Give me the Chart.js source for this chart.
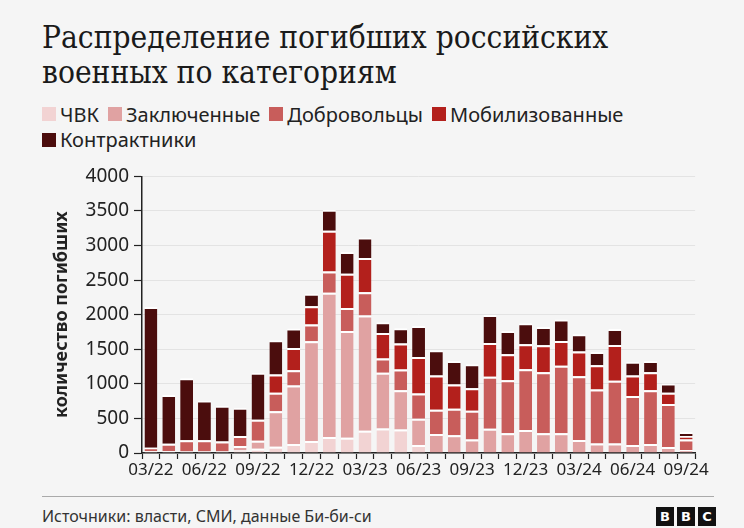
<!DOCTYPE html>
<html><head><meta charset="utf-8">
<script src="https://cdn.jsdelivr.net/npm/chart.js@4/dist/chart.umd.min.js"></script>
<style>
html,body{margin:0;padding:0;background:#f5f5f5;}
body{width:744px;height:528px;position:relative;overflow:hidden;font-family:"Noto Sans",sans-serif;color:#222;}
#title{position:absolute;left:42px;top:20px;font-family:"DejaVu Serif",serif;font-stretch:condensed;font-size:31.4px;line-height:35px;color:#1a1a1a;white-space:nowrap;}
#legend{position:absolute;left:42px;top:101px;width:660px;font-size:20px;line-height:25px;color:#222}
.item{display:inline-flex;align-items:center;margin-right:9px;white-space:nowrap}
.sw{width:14px;height:14px;margin-right:4px;display:inline-block}
#chartbox{position:absolute;left:40px;top:160px;width:670px;height:320px}
#rule{position:absolute;left:42px;top:496px;width:672px;height:1px;background:#aaa}
#source{position:absolute;left:42px;top:505px;font-size:16px;color:#333;white-space:nowrap}
#bbc{position:absolute;left:656px;top:507px;display:flex;gap:3px}
#bbc span{width:18px;height:19px;background:#111;color:#fff;font-weight:bold;font-size:13px;display:flex;align-items:center;justify-content:center;font-family:"DejaVu Sans",sans-serif}
</style>
</head><body>
<div id="title">Распределение погибших российских<br>военных по категориям</div>
<div id="legend"></div>
<div id="chartbox"><canvas id="c" width="670" height="320"></canvas></div>
<div id="rule"></div>
<div id="source">Источники: власти, СМИ, данные Би-би-си</div>
<div id="bbc"><span>B</span><span>B</span><span>C</span></div>
<script>
const months = ["03/22","04/22","05/22","06/22","07/22","08/22","09/22","10/22","11/22","12/22",
  "01/23","02/23","03/23","04/23","05/23","06/23","07/23","08/23","09/23","10/23","11/23","12/23",
  "01/24","02/24","03/24","04/24","05/24","06/24","07/24","08/24","09/24"];
const seriesNames = ["ЧВК","Заключенные","Добровольцы","Мобилизованные","Контрактники"];
const chvk =  [30,25,20,20,20,35,60,90,130,173,231,221,322,356,341,115,0,0,0,0,0,0,0,0,0,0,0,0,0,0,0];
const prisoners = [0,0,0,0,0,65,117,515,846,1443,2087,1544,1665,803,568,380,274,255,197,351,284,332,284,284,188,139,139,115,130,87,43];
const volunteers = [47,109,163,163,148,145,303,265,222,241,308,332,336,207,298,366,351,385,414,750,769,880,885,976,923,780,905,708,779,620,154];
const mobilized = [0,0,0,0,0,0,0,264,322,264,587,496,496,370,375,529,496,351,327,491,376,361,389,361,356,351,519,298,260,164,48];
const contract = [2036,703,899,577,515,409,679,496,279,183,303,312,298,154,222,447,365,341,346,404,336,303,265,308,250,192,231,197,163,134,58];
const yTicks = [0,500,1000,1500,2000,2500,3000,3500,4000];

const colors = ["#f2d3d3","#e0a2a2","#c85d5b","#b3201c","#4b0d0d"];
const values = [chvk, prisoners, volunteers, mobilized, contract];

const leg = document.getElementById('legend');
seriesNames.forEach((n,i)=>{
  const it=document.createElement('span');it.className='item';
  it.innerHTML='<span class="sw" style="background:'+colors[i]+'"></span>'+n;
  leg.appendChild(it);
  if(i===3) leg.appendChild(document.createElement('br'));
});

const datasets = seriesNames.map((n,i)=>({
  label:n, data:values[i], backgroundColor:colors[i],
  borderColor:'#ffffff', borderWidth:{top:2,left:0,right:0,bottom:0}, borderSkipped:false,
  categoryPercentage:1, barPercentage:0.72
}));

new Chart(document.getElementById('c'),{
  type:'bar',
  data:{labels:months, datasets},
  options:{
    responsive:false, animation:false,
    layout:{padding:{top:16,right:12,left:0,bottom:0}},
    plugins:{legend:{display:false},tooltip:{enabled:false}},
    scales:{
      x:{stacked:true,
        grid:{drawOnChartArea:false,drawTicks:true,tickLength:6,tickColor:'#222',tickWidth:1.2},
        border:{display:true,color:'#222',width:1.5},
        ticks:{autoSkip:false,maxRotation:0,minRotation:0,padding:1,color:'#222',font:{family:'Noto Sans',size:17},
          callback:(v,i)=> i%3===0 ? months[i] : ''},
        afterFit:s=>{s.height=27;}
      },
      y:{stacked:true,min:0,max:4000,
        afterBuildTicks:s=>{s.ticks=yTicks.map(v=>({value:v}));},
        grid:{color:'#e3e3e3',tickColor:'#222',tickLength:8,lineWidth:1,tickWidth:1.2},
        border:{display:true,color:'#222',width:1.5},
        ticks:{padding:5,color:'#222',font:{family:'Noto Sans',size:19},callback:v=>String(v)},
        title:{display:true,text:'количество погибших',color:'#222',font:{family:'Noto Sans',size:18,weight:'bold'},padding:{top:11,bottom:0}},
        afterFit:s=>{s.width=102;}
      }
    }
  }
});
</script>
</body></html>
